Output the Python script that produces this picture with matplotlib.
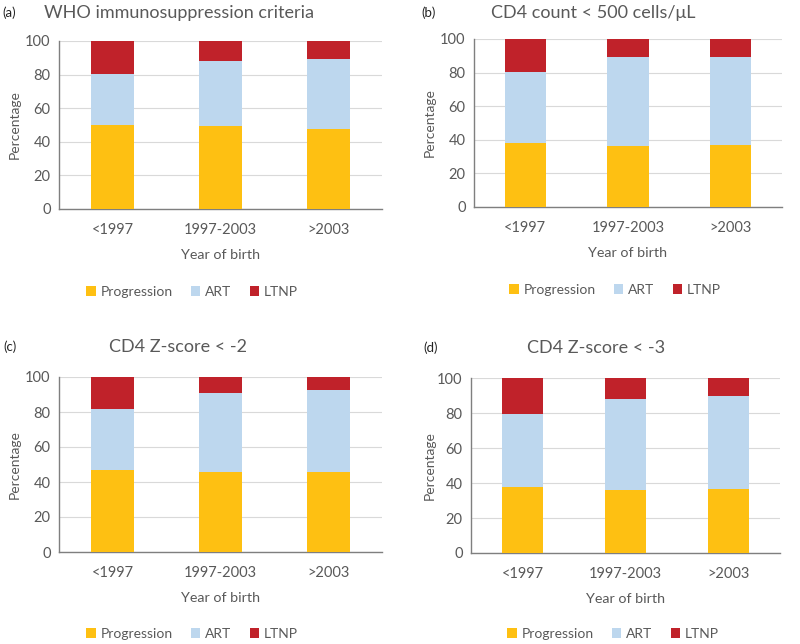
import matplotlib
matplotlib.use("Agg")
import matplotlib.pyplot as plt
import numpy as np

plt.rcParams["font.family"] = ["Lato", "DejaVu Sans"]

CATEGORIES = ["<1997", "1997-2003", ">2003"]
SERIES = ["Progression", "ART", "LTNP"]
COLORS = {"Progression": "#FEC012", "ART": "#BDD7EE", "LTNP": "#C0222A"}

TITLES = ["WHO immunosuppression criteria", "CD4 count < 500 cells/\u03bcL",
          "CD4 Z-score < -2", "CD4 Z-score < -3"]
TAGS = ["(a)", "(b)", "(c)", "(d)"]

# percentages per panel, one list per series
PROGRESSION = [[50.0, 49.5, 47.5], [38.0, 36.5, 37.0],
               [47.0, 46.0, 45.5], [37.5, 36.0, 36.5]]
ART = [[30.5, 38.5, 42.0], [42.5, 52.5, 52.5],
       [35.0, 45.0, 47.0], [42.0, 52.0, 53.0]]
LTNP = [[19.5, 12.0, 10.5], [19.5, 11.0, 10.5],
        [18.0, 9.0, 7.5], [20.5, 12.0, 10.5]]

# panel layout in pixels: axes (left, top, right, bottom), title xy, tag x, ylabel x, legend xy
PANELS = [
    dict(ax=(59, 41, 382, 209), title=(179, 13), tag=2, ylab=9, legend=(192, 292)),
    dict(ax=(474, 39, 782, 207), title=(593, 13), tag=421, ylab=424, legend=(615, 290)),
    dict(ax=(59, 377, 382, 552), title=(178, 347), tag=3, ylab=9, legend=(192, 634)),
    dict(ax=(471, 378, 780, 553), title=(596, 348), tag=423, ylab=424, legend=(613, 634)),
]

W, H = 800, 644
fig = plt.figure(figsize=(W / 100, H / 100), dpi=100)
TXT = "#595959"
AXC = "#7F7F7F"

for i, p in enumerate(PANELS):
    l, t, r, b = p["ax"]
    ax = fig.add_axes([l / W, 1 - b / H, (r - l) / W, (b - t) / H])
    x = np.arange(len(CATEGORIES))
    bottom = np.zeros(len(CATEGORIES))
    for name, data in zip(SERIES, [PROGRESSION, ART, LTNP]):
        vals = np.array(data[i])
        ax.bar(x, vals, 0.4, bottom=bottom, color=COLORS[name], label=name, zorder=3)
        bottom += vals
    ax.set_xlim(-0.5, 2.5)
    ax.set_ylim(0, 100)
    ax.set_yticks(range(0, 101, 20))
    ax.set_xticks(x)
    ax.set_xticklabels(CATEGORIES)
    ax.tick_params(length=0, labelsize=10.5, colors=TXT, pad=6)
    ax.tick_params(axis="x", pad=10)
    ax.grid(axis="y", color="#D9D9D9", lw=0.8, zorder=0)
    for s in ["top", "right"]:
        ax.spines[s].set_visible(False)
    for s in ["left", "bottom"]:
        ax.spines[s].set_color(AXC)
        ax.spines[s].set_linewidth(1.0)
    ax.set_xlabel("Year of birth", fontsize=10.3, color=TXT, labelpad=9)
    fig.text(p["ylab"] / W, 1 - ((t + b) / 2) / H, "Percentage", rotation=90,
             ha="left", va="center", fontsize=10, color=TXT)
    fig.text(p["title"][0] / W, 1 - p["title"][1] / H, TITLES[i], ha="center",
             va="center", fontsize=13, color=TXT)
    fig.text(p["tag"] / W, 1 - p["title"][1] / H, TAGS[i], ha="left",
             va="center", fontsize=9.5, color="#222222")
    ax.legend(loc="center", bbox_to_anchor=(p["legend"][0] / W, 1 - p["legend"][1] / H),
              bbox_transform=fig.transFigure, ncol=3, frameon=False, fontsize=10,
              handlelength=0.7, handleheight=0.7, handletextpad=0.35,
              columnspacing=1.3, labelcolor=TXT)

fig.savefig("out.png", dpi=100)
